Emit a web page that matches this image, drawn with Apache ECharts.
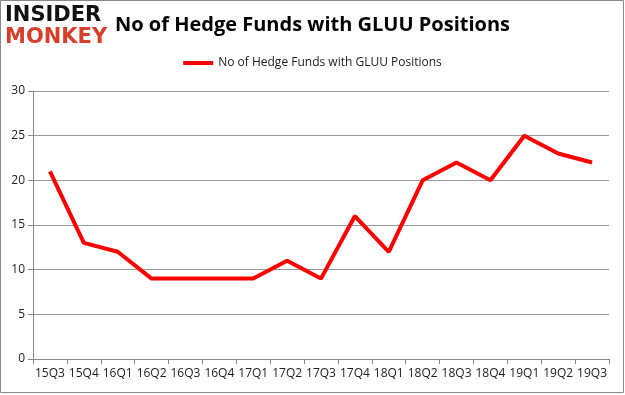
<!DOCTYPE html>
<html><head><meta charset="utf-8">
<script src="https://cdn.jsdelivr.net/npm/echarts@6/dist/echarts.min.js"></script>
<style>html,body{margin:0;padding:0;background:#fff}#c{width:625px;height:395px}</style>
</head><body><div id="c"></div>
<script>
const categories = ["15Q3","15Q4","16Q1","16Q2","16Q3","16Q4","17Q1","17Q2","17Q3","17Q4","18Q1","18Q2","18Q3","18Q4","19Q1","19Q2","19Q3"];
const values = [21,13,12,9,9,9,9,11,9,16,12,20,22,20,25,23,22];
const seriesName = "No of Hedge Funds with GLUU Positions";
const titleText = "No of Hedge Funds with GLUU Positions";

const chart = echarts.init(document.getElementById('c'), null, {renderer:'canvas'});
chart.setOption({
  animation:false,
  backgroundColor:'#fff',
  graphic:[
    {type:'rect', shape:{x:0.5,y:0.5,width:623,height:392}, style:{fill:'none', stroke:'#888', lineWidth:1}},
    {type:'text', left:5, top:5, style:{text:'INSIDER', fill:'#111', font:'bold 21px "DejaVu Sans"'}},
    {type:'text', left:5, top:27, style:{text:'MONKEY', fill:'#d6402b', font:'bold 21px "DejaVu Sans"'}}
  ],
  title:{text:titleText, left:110, top:10, textStyle:{fontFamily:'"Open Sans"', fontSize:20, fontWeight:'bold', color:'#000'}},
  legend:{top:52, left:'center', itemWidth:30, itemHeight:4, icon:'rect', textStyle:{fontFamily:'"Open Sans"', fontSize:12, color:'#222'}, data:[seriesName]},
  grid:{left:33, right:16, top:91, bottom:36, containLabel:false},
  xAxis:{type:'category', data:categories, boundaryGap:true,
    axisLine:{lineStyle:{color:'#888'}}, axisTick:{show:true, alignWithLabel:false, lineStyle:{color:'#888'}},
    axisLabel:{color:'#222', fontFamily:'"Open Sans"', fontSize:12, margin:9, interval:0}},
  yAxis:{type:'value', min:0, max:30, interval:5,
    axisLine:{show:true, lineStyle:{color:'#888'}}, axisTick:{show:true, length:5, lineStyle:{color:'#888'}},
    splitLine:{lineStyle:{color:'#999'}},
    axisLabel:{color:'#222', fontFamily:'"Open Sans"', fontSize:12, margin:8}},
  series:[{name:seriesName, type:'line', data:values, symbol:'none', lineStyle:{color:'#ff0000', width:4}, itemStyle:{color:'#ff0000'}}]
});
</script></body></html>
